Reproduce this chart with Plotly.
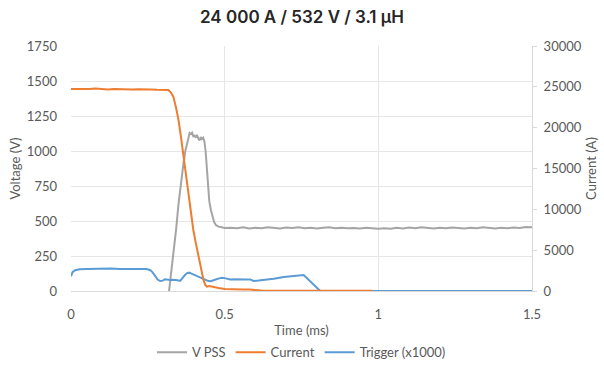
import plotly.graph_objects as go

# ---------------- data ----------------
vpss_t = [0.318, 0.325, 0.333, 0.342, 0.350, 0.358, 0.366, 0.372, 0.377, 0.382,
          0.386, 0.390, 0.394, 0.398, 0.402, 0.406, 0.410, 0.414, 0.418, 0.422,
          0.426, 0.430, 0.434, 0.438, 0.442, 0.446, 0.450, 0.455, 0.460, 0.466,
          0.472, 0.480, 0.490, 0.500,
          0.52, 0.54, 0.56, 0.58, 0.60, 0.62, 0.64, 0.66, 0.68, 0.70,
          0.72, 0.74, 0.76, 0.78, 0.80, 0.82, 0.84, 0.86, 0.88, 0.90,
          0.92, 0.94, 0.96, 0.98, 1.00, 1.02, 1.04, 1.06, 1.08, 1.10,
          1.12, 1.14, 1.16, 1.18, 1.20, 1.22, 1.24, 1.26, 1.28, 1.30,
          1.32, 1.34, 1.36, 1.38, 1.40, 1.42, 1.44, 1.46, 1.48, 1.50]
vpss_v = [-20, 110, 245, 440, 626, 780, 912, 1000, 1055, 1100,
          1128, 1120, 1130, 1105, 1110, 1095, 1115, 1090, 1075, 1100,
          1085, 1095, 1070, 1000, 880, 700, 640, 580, 530, 490,
          470, 460, 455, 450,
          452, 448, 455, 446, 452, 449, 455, 450, 447, 453,
          450, 456, 449, 452, 447, 451, 455, 449, 452, 448,
          450, 446, 452, 449, 444, 448, 445, 451, 447, 453,
          449, 455, 450, 447, 452, 449, 454, 450, 447, 452,
          448, 455, 450, 446, 451, 448, 454, 450, 457, 455]

current_t = [0.00, 0.02, 0.04, 0.06, 0.08, 0.10, 0.12, 0.14, 0.16, 0.18,
             0.20, 0.22, 0.24, 0.26, 0.28, 0.30, 0.317, 0.325, 0.333, 0.342,
             0.350, 0.358, 0.366, 0.374, 0.382, 0.390, 0.398, 0.406, 0.415, 0.423,
             0.431, 0.437, 0.442, 0.450, 0.46, 0.48, 0.50, 0.52, 0.54, 0.56,
             0.58, 0.60, 0.62, 0.65, 0.70, 0.75, 0.80, 0.85, 0.90, 0.95, 0.98]
current_a = [24750, 24720, 24780, 24740, 24790, 24730, 24680, 24740, 24690, 24720,
             24660, 24700, 24640, 24670, 24630, 24640, 24600, 24300, 23800, 22400,
             20900, 18800, 16400, 14000, 11550, 9500, 7470, 5900, 4200, 2700,
             1350, 750, 530, 600, 500, 380, 250, 200, 230, 190,
             180, 70, 50, 40, 50, 35, 45, 30, 40, 30, 30]

trigger_t = [0.000, 0.005, 0.013, 0.029, 0.05, 0.073, 0.10, 0.13, 0.16, 0.19,
             0.22, 0.245, 0.257, 0.265, 0.274, 0.282, 0.290, 0.298, 0.306, 0.314,
             0.322, 0.330, 0.339, 0.347, 0.355, 0.363, 0.371, 0.378, 0.385, 0.392,
             0.398, 0.406, 0.415, 0.423, 0.431, 0.439, 0.447, 0.455, 0.464, 0.473,
             0.482, 0.491, 0.50, 0.518, 0.535, 0.550, 0.567, 0.583, 0.594, 0.61,
             0.637, 0.66, 0.692, 0.708, 0.725, 0.74, 0.757, 0.811, 0.85, 1.0,
             1.2, 1.5]
trigger_v = [105, 135, 148, 155, 158, 160, 159, 161, 158, 160,
             158, 157, 150, 135, 105, 82, 71, 74, 83, 80,
             79, 81, 80, 77, 72, 95, 114, 128, 131, 124,
             118, 110, 102, 96, 90, 80, 71, 70, 79, 84,
             90, 95, 92, 83, 84, 86, 83, 83, 72, 75,
             80, 88, 100, 103, 110, 112, 114, 0, 0, 0,
             0, 0]

title_text = "24 000 A / 532 V / 3.1 µH"
x_ticks = [0, 0.5, 1, 1.5]
x_ticklabels = ["0", "0.5", "1", "1.5"]
yl_ticks = [0, 250, 500, 750, 1000, 1250, 1500, 1750]
yr_ticks = [0, 5000, 10000, 15000, 20000, 25000, 30000]
yr_ticklabels = ["0", "5000", "10000", "15000", "20000", "25000", "30000"]

# ---------------- style ----------------
GRAY = "#A5A5A5"
ORANGE = "#ED7D31"
BLUE = "#5B9BD5"
TXT = "#595959"
GRID = "#E6E6E6"
FONT = "Lato"
FS = 13

fig = go.Figure()
fig.add_trace(go.Scatter(x=vpss_t, y=vpss_v, name="V PSS", mode="lines",
                         line=dict(color=GRAY, width=2), legendrank=1))
fig.add_trace(go.Scatter(x=trigger_t, y=trigger_v, name="Trigger (x1000)", mode="lines",
                         line=dict(color=BLUE, width=2), legendrank=3))
fig.add_trace(go.Scatter(x=current_t, y=current_a, name="Current", mode="lines",
                         line=dict(color=ORANGE, width=2), yaxis="y2", legendrank=2))

fig.update_layout(
    width=604, height=376,
    margin=dict(l=71, r=72, t=46, b=85, autoexpand=False),
    paper_bgcolor="white", plot_bgcolor="white",
    font=dict(family=FONT, size=FS, color=TXT),
    title=dict(text=title_text, x=0.5, xanchor="center", y=0.955, yanchor="middle",
               font=dict(family="Inter", size=17, color="#262626", weight=600)),
    showlegend=True,
    legend=dict(orientation="h", x=0.5, xanchor="center", y=-0.25, yanchor="middle",
                font=dict(size=FS, color=TXT), itemwidth=30, traceorder="normal"),
    xaxis=dict(range=[0, 1.5], tickvals=x_ticks, ticktext=x_ticklabels,
               showgrid=True, gridcolor=GRID, gridwidth=1, automargin=False,
               showline=True, linecolor="#D9D9D9", zeroline=False,
               ticks="", ticklabelstandoff=11,
               title=dict(text="Time (ms)", standoff=5, font=dict(size=FS, color=TXT))),
    yaxis=dict(range=[0, 1750], tickvals=yl_ticks, showgrid=True, gridcolor=GRID,
               zeroline=False, showline=False, ticks="", ticklabelstandoff=13,
               automargin=False,
               title=dict(text="Voltage (V)", standoff=3, font=dict(size=FS, color=TXT))),
    yaxis2=dict(range=[0, 30000], tickvals=yr_ticks, ticktext=yr_ticklabels,
                overlaying="y", side="right", automargin=False,
                showgrid=False, zeroline=False, showline=True, linecolor="#D9D9D9",
                ticks="outside", ticklen=4, tickcolor="#D9D9D9", ticklabelstandoff=4,
                title=dict(text="Current (A)", standoff=6, font=dict(size=FS, color=TXT))),
)

fig.write_html("out.html")
